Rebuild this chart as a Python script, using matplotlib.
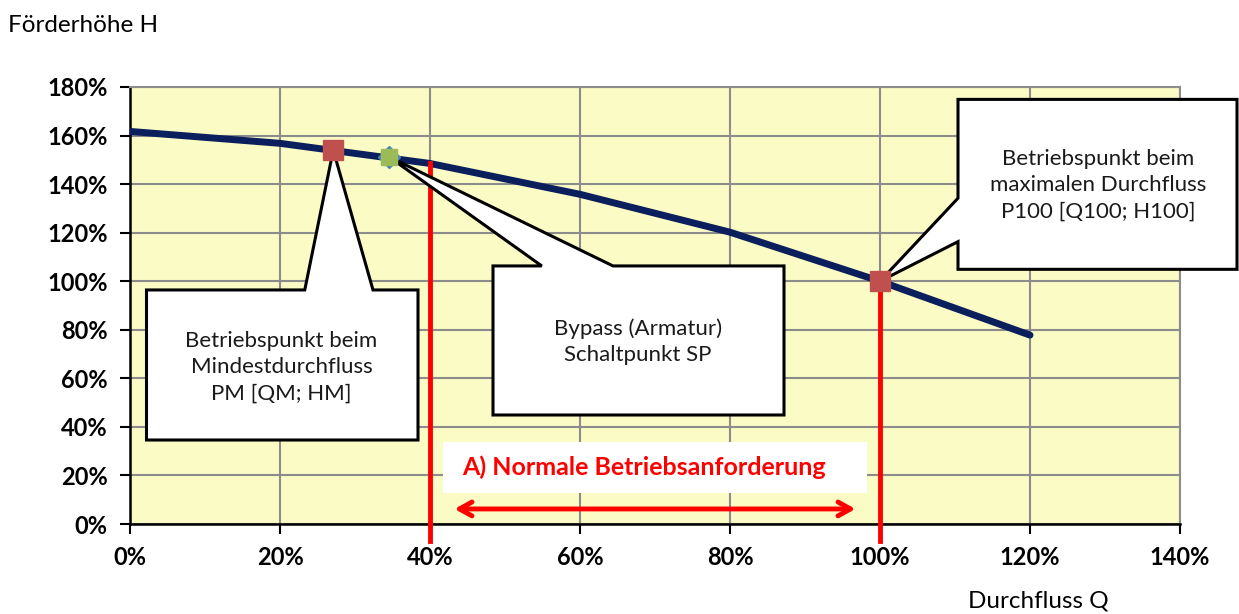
import matplotlib
matplotlib.use('Agg')
import matplotlib.pyplot as plt
from matplotlib.patches import Polygon, Rectangle

plt.rcParams['font.family'] = ['Lato', 'DejaVu Sans']

# Kennlinie der Pumpe (Durchfluss Q in %, Förderhöhe H in %)
q = [0, 20, 40, 60, 80, 100, 120]
h = [161.7, 156.8, 148.5, 135.8, 120.2, 100.0, 77.8]

# Betriebspunkte
pm = (27.1, 154.0)      # Mindestdurchfluss
sp = (34.5, 151.3)      # Bypass Schaltpunkt
p100 = (100.0, 100.0)   # maximaler Durchfluss

# Grenzen der normalen Betriebsanforderung
q_min_norm = 40
q_max_norm = 100

x_ticks = [0, 20, 40, 60, 80, 100, 120, 140]
y_ticks = [0, 20, 40, 60, 80, 100, 120, 140, 160, 180]

fig = plt.figure(figsize=(12.39, 6.14), dpi=100)
ax = fig.add_axes([130 / 1239, 1 - 524 / 614, 1050 / 1239, 437 / 614])
ax.set_facecolor('#FBFBC6')
ax.set_xlim(0, 140)
ax.set_ylim(0, 180)

ax.set_xticks(x_ticks)
ax.set_yticks(y_ticks)
ax.set_xticklabels([f'{v}%' for v in x_ticks], fontsize=17, fontweight='bold')
ax.set_yticklabels([f'{v}%' for v in y_ticks], fontsize=17, fontweight='bold')
ax.tick_params(length=7, width=1.5, color='black', pad=9)
ax.grid(True, color='#8C8C8C', linewidth=1.5)
ax.set_axisbelow(True)
for s in ['top', 'right']:
    ax.spines[s].set_color('#8C8C8C')
    ax.spines[s].set_linewidth(1.5)
for s in ['left', 'bottom']:
    ax.spines[s].set_color('black')
    ax.spines[s].set_linewidth(1.8)

# Kennlinie
ax.plot(q, h, color='#0A1F5C', linewidth=5, solid_capstyle='round', zorder=3)

# rote Grenzlinien
h_at = dict(zip(q, h))
for qx in (q_min_norm, q_max_norm):
    ax.plot([qx, qx], [h_at[qx], -7], color='#FF0000', linewidth=3.5,
            clip_on=False, zorder=4)

# Pfeil und Beschriftung
ax.add_patch(Rectangle((41.7, 12.8), 56.6, 21.0, facecolor='white',
                       edgecolor='none', zorder=4))
ax.text(44.3, 23.5, 'A) Normale Betriebsanforderung', color='#FF0000',
        fontsize=18, fontweight='bold', va='center', ha='left', zorder=5)
ax.annotate('', xy=(42.9, 6.2), xytext=(97.1, 6.2),
            arrowprops=dict(arrowstyle='<->,head_length=0.9,head_width=0.5',
                            color='#FF0000', lw=3.5), zorder=5)


def callout(points, text, tx, ty):
    poly = Polygon(points, closed=True, facecolor='white', edgecolor='black',
                   linewidth=2.2, joinstyle='miter', clip_on=False, zorder=6)
    ax.add_patch(poly)
    ax.text(tx, ty, text, ha='center', va='center', fontsize=16,
            linespacing=1.4, color='#1A1A1A', zorder=7, clip_on=False)


callout([(2.2, 96.4), (23.3, 96.4), pm, (32.4, 96.4), (38.4, 96.4),
         (38.4, 34.6), (2.2, 34.6)],
        'Betriebspunkt beim\nMindestdurchfluss\nPM [QM; HM]', 20.2, 64.7)
callout([(48.4, 106.3), (54.9, 106.3), sp, (64.4, 106.3), (87.2, 106.3),
         (87.2, 44.9), (48.4, 44.9)],
        'Bypass (Armatur)\nSchaltpunkt SP', 67.7, 75.0)
callout([(110.4, 174.9), (147.6, 174.9), (147.6, 104.9), (110.4, 104.9),
         (110.4, 116.3), p100, (110.4, 134.2)],
        'Betriebspunkt beim\nmaximalen Durchfluss\nP100 [Q100; H100]', 129.1, 139.6)

# Betriebspunkte
ax.plot(*sp, marker='D', markersize=11, color='#4F81BD', zorder=8)
ax.plot(*sp, marker='s', markersize=11, color='#9BBB59', markeredgecolor='#9BBB59', zorder=9)
ax.plot(*pm, marker='s', markersize=14.5, color='#C0504D', markeredgecolor='#C0504D', zorder=9)
ax.plot(*p100, marker='s', markersize=14.5, color='#C0504D', markeredgecolor='#C0504D', zorder=9)

fig.text(8 / 1239, 1 - 25 / 614, 'Förderhöhe H', fontsize=17.5, va='center', ha='left')
fig.text(968 / 1239, 1 - 601 / 614, 'Durchfluss Q', fontsize=17.5, va='center', ha='left')

fig.savefig('out.png', dpi=100, facecolor='white')
